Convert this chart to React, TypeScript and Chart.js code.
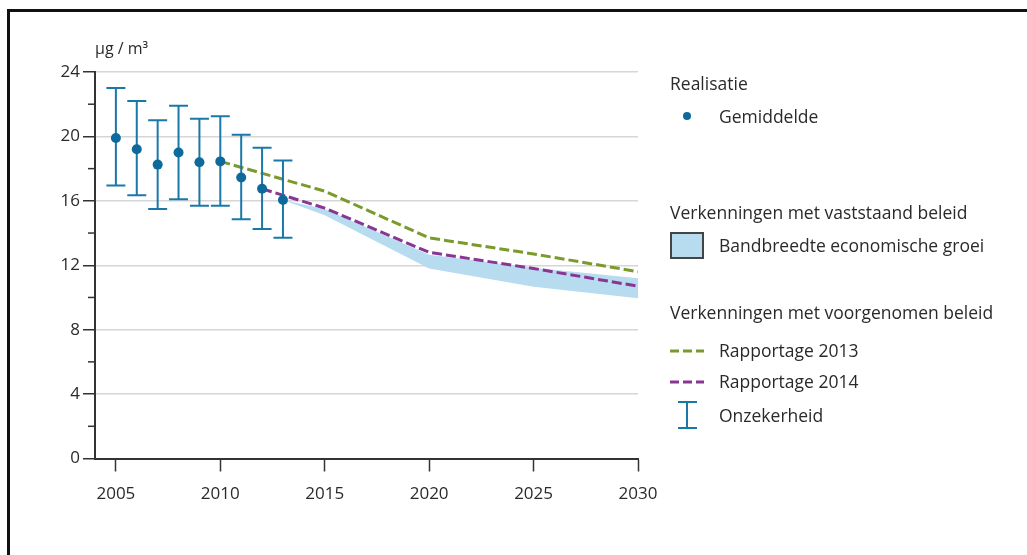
import React, { useEffect, useRef } from "react";
import { Chart, registerables } from "chart.js";

Chart.register(...registerables);

// ---- data ----
const jaren = [2005, 2006, 2007, 2008, 2009, 2010, 2011, 2012, 2013];
const gemiddelde = [19.9, 19.2, 18.25, 19.0, 18.4, 18.45, 17.45, 16.75, 16.05];
const onzekerheidLaag = [16.95, 16.35, 15.5, 16.1, 15.7, 15.7, 14.85, 14.25, 13.7];
const onzekerheidHoog = [23.0, 22.2, 21.0, 21.9, 21.1, 21.25, 20.1, 19.3, 18.5];

const rapportage2013Jaren = [2010, 2015, 2020, 2025, 2030];
const rapportage2013 = [18.45, 16.6, 13.7, 12.7, 11.6];

const rapportage2014Jaren = [2012, 2015, 2020, 2025, 2030];
const rapportage2014 = [16.75, 15.55, 12.8, 11.8, 10.7];

const bandJaren = [2013, 2015, 2020, 2025, 2030];
const bandHoog = [16.05, 15.5, 12.65, 11.85, 11.2];
const bandLaag = [16.05, 15.1, 11.8, 10.67, 9.95];

const xTicks = [2005, 2010, 2015, 2020, 2025, 2030];
const yMajorTicks = [0, 4, 8, 12, 16, 20, 24];
const yMinorTicks = [2, 6, 10, 14, 18, 22];

// ---- styles ----
const FONT = "'Open Sans', 'Noto Sans', sans-serif";
const TEXT = "#2a2a2a";
const AXIS = "#333333";
const BLUE = "#1a78a9";
const DOT = "#0e6a9b";
const GREEN = "#7b9a2c";
const PURPLE = "#8a3592";
const BAND = "#b7dcf0";
const GRID = "#d6d6d6";

const minorTicksPlugin = {
  id: "minorTicks",
  afterDraw(chart: any) {
    const y = chart.scales.y;
    const ctx = chart.ctx;
    ctx.save();
    ctx.strokeStyle = AXIS;
    ctx.lineWidth = 1.5;
    yMinorTicks.forEach((v) => {
      const py = y.getPixelForValue(v);
      ctx.beginPath();
      ctx.moveTo(chart.chartArea.left - 7, py);
      ctx.lineTo(chart.chartArea.left, py);
      ctx.stroke();
    });
    ctx.restore();
  },
};

function ChartCanvas() {
  const ref = useRef<HTMLCanvasElement | null>(null);
  useEffect(() => {
    if (!ref.current) return;
    const errorSets = jaren.map((j, i) => ({
      type: "line" as const,
      data: [
        { x: j, y: onzekerheidLaag[i] },
        { x: j, y: onzekerheidHoog[i] },
      ],
      borderColor: BLUE,
      borderWidth: 2,
      pointStyle: "line" as const,
      pointRadius: 9.5,
      pointBorderWidth: 2,
      pointBorderColor: BLUE,
      pointBackgroundColor: BLUE,
      fill: false,
    }));
    const chart = new Chart(ref.current, {
      type: "line",
      data: {
        datasets: [
          {
            label: "Gemiddelde",
            data: jaren.map((j, i) => ({ x: j, y: gemiddelde[i] })),
            showLine: false,
            pointRadius: 5,
            pointBackgroundColor: DOT,
            pointBorderWidth: 0,
            borderColor: DOT,
          },
          ...errorSets,
          {
            label: "Rapportage 2013",
            data: rapportage2013Jaren.map((j, i) => ({ x: j, y: rapportage2013[i] })),
            borderColor: GREEN,
            borderWidth: 3,
            borderDash: [10, 4],
            pointRadius: 0,
            fill: false,
          },
          {
            label: "Rapportage 2014",
            data: rapportage2014Jaren.map((j, i) => ({ x: j, y: rapportage2014[i] })),
            borderColor: PURPLE,
            borderWidth: 3,
            borderDash: [10, 4],
            pointRadius: 0,
            fill: false,
          },
          {
            label: "Band hoog",
            data: bandJaren.map((j, i) => ({ x: j, y: bandHoog[i] })),
            borderWidth: 0,
            borderColor: BAND,
            backgroundColor: BAND,
            pointRadius: 0,
            fill: "+1",
          },
          {
            label: "Band laag",
            data: bandJaren.map((j, i) => ({ x: j, y: bandLaag[i] })),
            borderWidth: 0,
            borderColor: BAND,
            backgroundColor: BAND,
            pointRadius: 0,
            fill: false,
          },
        ] as any,
      },
      options: {
        responsive: false,
        animation: false,
        layout: { padding: { top: 72, right: 389, left: 0, bottom: 0 } },
        plugins: {
          legend: { display: false },
          tooltip: { enabled: false },
        },
        scales: {
          x: {
            type: "linear",
            min: 2004,
            max: 2030,
            afterFit: (s: any) => {
              s.height = 96.5;
            },
            afterBuildTicks: (s: any) => {
              s.ticks = xTicks.map((v) => ({ value: v }));
            },
            grid: {
              drawOnChartArea: false,
              drawTicks: true,
              tickLength: 13,
              tickColor: AXIS,
              tickWidth: 1.5,
            },
            border: { display: true, color: AXIS, width: 2 },
            ticks: {
              padding: 12,
              color: TEXT,
              font: { family: FONT, size: 17 },
              callback: (v: any) => String(v),
              maxRotation: 0,
            },
          },
          y: {
            type: "linear",
            min: 0,
            max: 24,
            afterFit: (s: any) => {
              s.width = 95;
            },
            afterBuildTicks: (s: any) => {
              s.ticks = yMajorTicks.map((v) => ({ value: v }));
            },
            grid: {
              color: (c: any) => (c.tick && c.tick.value === 0 ? "rgba(0,0,0,0)" : GRID),
              lineWidth: 1.5,
              tickLength: 12,
              tickColor: AXIS,
              tickWidth: 1.5,
            },
            border: { display: true, color: AXIS, width: 2 },
            ticks: {
              padding: 3,
              color: TEXT,
              font: { family: FONT, size: 17 },
              callback: (v: any) => String(v),
            },
          },
        },
      } as any,
      plugins: [minorTicksPlugin],
    });
    return () => chart.destroy();
  }, []);
  return (
    <canvas
      ref={ref}
      width={1027}
      height={555}
      style={{ position: "absolute", left: 0, top: 0, width: 1027, height: 555 }}
    />
  );
}

function Txt({ x, cy, size = 17.5, children }: { x: number; cy: number; size?: number; children: any }) {
  return (
    <div
      style={{
        position: "absolute",
        left: x,
        top: cy - 12.5,
        height: 24,
        lineHeight: "24px",
        fontFamily: FONT,
        fontSize: size,
        color: TEXT,
        whiteSpace: "nowrap",
      }}
    >
      {children}
    </div>
  );
}

export default function App() {
  return (
    <div
      style={{
        position: "absolute",
        left: 0,
        top: 0,
        width: 1027,
        height: 555,
        overflow: "hidden",
        background: "#ffffff",
      }}
    >
      <div
        style={{
          position: "absolute",
          left: 7,
          top: 9,
          right: -10,
          bottom: -10,
          borderTop: "3px solid #111",
          borderLeft: "3px solid #111",
        }}
      />
      <ChartCanvas />
      <Txt x={95} cy={48.5} size={16}>
        µg / m³
      </Txt>
      <svg
        width={1027}
        height={555}
        style={{ position: "absolute", left: 0, top: 0, pointerEvents: "none" }}
      >
        <circle cx={687} cy={116} r={4} fill={DOT} />
        <rect x={671} y={233} width={32} height={25} fill={BAND} stroke="#444" strokeWidth={2} />
        <line x1={670} y1={351} x2={704} y2={351} stroke={GREEN} strokeWidth={3} strokeDasharray="9,4" />
        <line x1={670} y1={382} x2={704} y2={382} stroke={PURPLE} strokeWidth={3} strokeDasharray="9,4" />
        <line x1={687} y1={402} x2={687} y2={428} stroke={BLUE} strokeWidth={2} />
        <line x1={678} y1={402} x2={697} y2={402} stroke={BLUE} strokeWidth={2} />
        <line x1={678} y1={428} x2={697} y2={428} stroke={BLUE} strokeWidth={2} />
      </svg>
      <Txt x={670} cy={83}>Realisatie</Txt>
      <Txt x={719} cy={116.5}>Gemiddelde</Txt>
      <Txt x={670} cy={212}>Verkenningen met vaststaand beleid</Txt>
      <Txt x={719} cy={245.5}>Bandbreedte economische groei</Txt>
      <Txt x={670} cy={312.5}>Verkenningen met voorgenomen beleid</Txt>
      <Txt x={719} cy={350}>Rapportage 2013</Txt>
      <Txt x={719} cy={381.5}>Rapportage 2014</Txt>
      <Txt x={719} cy={415}>Onzekerheid</Txt>
    </div>
  );
}
